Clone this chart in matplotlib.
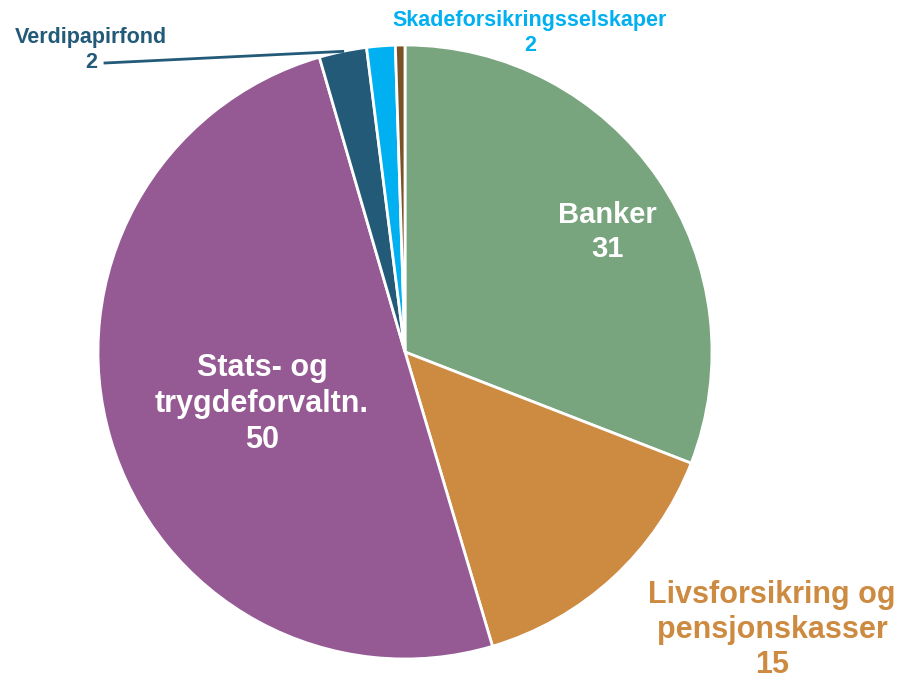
import numpy as np
import matplotlib.pyplot as plt

plt.rcParams['font.family'] = ['Liberation Sans', 'DejaVu Sans']

# sector data (share in percent)
sectors = ["Banker", "Livsforsikring og\npensjonskasser", "Stats- og\ntrygdeforvaltn.",
           "Verdipapirfond", "Skadeforsikringsselskaper", "Andre"]
values = [30.9, 14.5, 50.1, 2.5, 1.5, 0.5]
shown = ["31", "15", "50", "2", "2", ""]
colors = ["#78A57E", "#CD8B42", "#955A94", "#235A78", "#00B0F0", "#7B5126"]

fig = plt.figure(figsize=(9.02, 6.81), dpi=100)
# pie centre at ~ (405, 352) px, radius ~307 px
ax = fig.add_axes([98 / 902, 22 / 681, 614 / 902, 614 / 681])
wedges, _ = ax.pie(values, colors=colors, startangle=90, counterclock=False,
                   wedgeprops=dict(edgecolor="white", linewidth=2))
ax.set_xlim(-1, 1)
ax.set_ylim(-1, 1)
ax.set_aspect("equal")
ax.axis("off")


def px(x, y):
    # pixel position in the image -> data coords
    return (x - 405) / 307, (352 - y) / 307


# big labels
ax.text(*px(607, 232), f"{sectors[0]}\n{shown[0]}", ha="center", va="center",
        color="white", fontsize=21, fontweight="bold", linespacing=1.28)
ax.text(*px(772, 630), f"{sectors[1]}\n{shown[1]}", ha="center", va="center",
        color=colors[1], fontsize=22, fontweight="bold", linespacing=1.2, clip_on=False)
ax.text(*px(262, 404), f"{sectors[2]}\n{shown[2]}", ha="center", va="center",
        color="white", fontsize=22, fontweight="bold", linespacing=1.28)

# small labels
ax.text(*px(530, 33), f"{sectors[4]}\n{shown[4]}", ha="center", va="center",
        color=colors[4], fontsize=15.5, fontweight="bold", linespacing=1.25, clip_on=False)
ax.text(*px(91, 50), f"{sectors[3]}\n{shown[3]}", ha="center", va="center",
        color=colors[3], fontsize=15.5, fontweight="bold", linespacing=1.25, clip_on=False)

# leader line from Verdipapirfond label to its wedge
w = wedges[3]
mid = np.deg2rad((w.theta1 + w.theta2) / 2)
ax.plot([px(105, 63)[0], np.cos(mid)], [px(105, 63)[1], np.sin(mid)],
        color=colors[3], linewidth=2, clip_on=False)

fig.savefig("out.png", dpi=100)
